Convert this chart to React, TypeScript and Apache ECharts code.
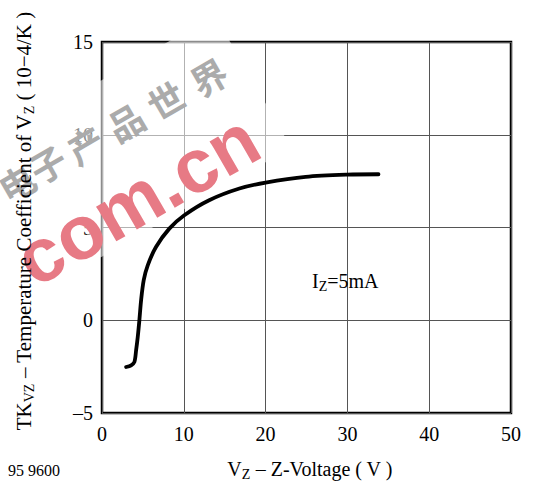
import React, { useEffect, useRef } from "react";
import * as echarts from "echarts";

// Curve: TKVZ vs VZ at IZ = 5 mA
const vzVolts = [2.95, 3.56, 3.96, 4.17, 4.37, 4.57, 4.78, 5.1, 5.59, 6.6, 8.23, 10.06, 13.1, 16.8, 20.0, 24.9, 30.0, 33.8];
const tkValues = [-2.52, -2.43, -2.25, -1.62, -0.9, 0, 1.08, 2.16, 2.96, 3.95, 4.94, 5.66, 6.47, 7.1, 7.42, 7.73, 7.85, 7.87];

const xTicks = [0, 10, 20, 30, 40, 50];
const yTicks = [-5, 0, 5, 10, 15];

const watermarkChars = ["电", "子", "产", "品", "世", "界"];
const watermarkCharPos = [
  [16, 182],
  [47, 163],
  [85, 144],
  [125, 121],
  [165, 99],
  [208, 76],
];

const SERIF = "'Liberation Serif', 'Times New Roman', serif";

export default function App() {
  const ref = useRef<HTMLDivElement>(null);

  useEffect(() => {
    if (!ref.current) return;
    const chart = echarts.init(ref.current, null, { renderer: "svg" });
    const data = vzVolts.map((v, i) => [v, tkValues[i]]);
    const fmt = (v: number) => String(v).replace("-", "\u2013");

    const richStyles = (size: number) => ({
      n: { fontSize: size, fontFamily: SERIF, fill: "#000", lineHeight: 24 },
      s: { fontSize: 14, fontFamily: SERIF, fill: "#000", lineHeight: 8, verticalAlign: "bottom" },
    });

    // semi-transparent watermark band (rotated 30deg)
    const ux = Math.cos(Math.PI / 6), uy = -Math.sin(Math.PI / 6);
    const nx = Math.sin(Math.PI / 6), ny = Math.cos(Math.PI / 6);
    const p0 = [102, 80];
    const aL = -90, aR = 130, bW = 153;
    const bandPts = [
      [p0[0] + ux * aL, p0[1] + uy * aL],
      [p0[0] + ux * aR, p0[1] + uy * aR],
      [p0[0] + ux * aR + nx * bW, p0[1] + uy * aR + ny * bW],
      [p0[0] + ux * aL + nx * bW, p0[1] + uy * aL + ny * bW],
    ];

    const graphics: any[] = [
      {
        type: "polygon",
        z: 50,
        silent: true,
        shape: { points: bandPts },
        style: { fill: "rgba(255,255,255,0.55)" },
      },
      ...watermarkChars.map((c, i) => ({
        type: "text",
        z: 51,
        silent: true,
        x: watermarkCharPos[i][0],
        y: watermarkCharPos[i][1],
        rotation: Math.PI / 6,
        style: {
          text: c,
          font: "bold 36px 'Noto Sans CJK SC'",
          fill: "#ababab",
          align: "center",
          verticalAlign: "middle",
        },
      })),
      {
        type: "text",
        z: 51,
        silent: true,
        x: 137,
        y: 199,
        rotation: Math.PI / 6,
        style: {
          text: "com.cn",
          font: "bold 76px 'Liberation Sans', Arial, sans-serif",
          fill: "#e77a85",
          align: "center",
          verticalAlign: "middle",
        },
      },
      {
        type: "text",
        z: 60,
        x: 24,
        y: 221,
        rotation: Math.PI / 2,
        style: {
          text: "{n|TK}{s|VZ}{n| \u2013 Temperature Coefficient of V}{s|Z}{n| ( 10\u22124/K )}",
          rich: richStyles(21),
          align: "center",
          verticalAlign: "middle",
        },
      },
      {
        type: "text",
        z: 60,
        x: 310,
        y: 469,
        style: {
          text: "{n|V}{s|Z}{n| \u2013 Z-Voltage ( V )}",
          rich: richStyles(20),
          align: "center",
          verticalAlign: "middle",
        },
      },
      {
        type: "text",
        z: 60,
        x: 8,
        y: 470,
        style: {
          text: "95 9600",
          font: "16px " + SERIF,
          fill: "#000",
          align: "left",
          verticalAlign: "middle",
        },
      },
      {
        type: "text",
        z: 60,
        x: 312,
        y: 281,
        style: {
          text: "{n|I}{s|Z}{n|=5mA}",
          rich: richStyles(20),
          align: "left",
          verticalAlign: "middle",
        },
      },
    ];

    chart.setOption({
      animation: false,
      backgroundColor: "#fff",
      grid: {
        left: 102,
        right: 22,
        top: 42,
        bottom: 71,
        show: true,
        borderColor: "#000",
        borderWidth: 2.5,
        backgroundColor: "transparent",
      },
      xAxis: {
        type: "value",
        min: xTicks[0],
        max: xTicks[xTicks.length - 1],
        interval: xTicks[1] - xTicks[0],
        axisLine: { show: false },
        axisTick: { show: false },
        splitLine: { show: true, lineStyle: { color: "#555", width: 1 } },
        axisLabel: {
          fontFamily: SERIF,
          fontSize: 20,
          color: "#000",
          margin: 11,
          formatter: fmt,
        },
      },
      yAxis: {
        type: "value",
        min: yTicks[0],
        max: yTicks[yTicks.length - 1],
        interval: yTicks[1] - yTicks[0],
        axisLine: { show: false },
        axisTick: { show: false },
        splitLine: { show: true, lineStyle: { color: "#555", width: 1 } },
        axisLabel: {
          fontFamily: SERIF,
          fontSize: 20,
          color: "#000",
          margin: 9,
          formatter: fmt,
        },
      },
      series: [
        {
          type: "line",
          data,
          showSymbol: false,
          smooth: 0.3,
          lineStyle: { color: "#000", width: 3.8, cap: "round", join: "round" },
          z: 5,
        },
      ],
      graphic: graphics,
    });

    return () => chart.dispose();
  }, []);

  return <div ref={ref} style={{ width: 533, height: 484, position: "absolute", left: 0, top: 0 }} />;
}
